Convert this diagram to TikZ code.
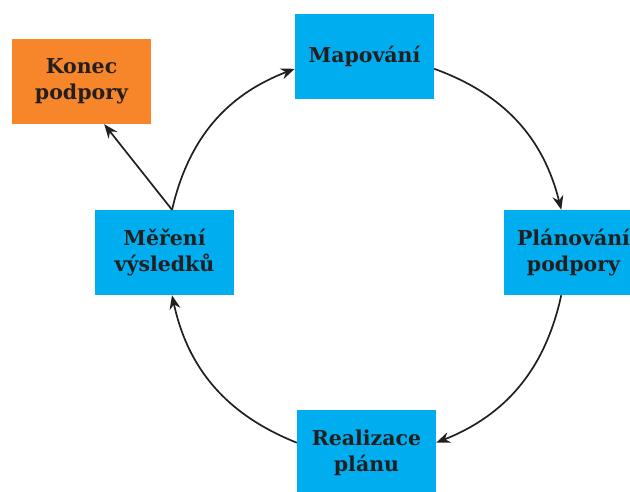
\documentclass[tikz,border=0pt]{standalone}
\usepackage{fontspec}
\setmainfont{DejaVu Serif}
\usetikzlibrary{arrows.meta}

\definecolor{stepblue}{HTML}{00AEEF}
\definecolor{endorange}{HTML}{F7862B}
\definecolor{inkdark}{HTML}{231F20}

\begin{document}
\begin{tikzpicture}[x=1pt,y=1pt,
		stepbox/.style={fill=stepblue, minimum width=139pt, minimum height=85pt, inner sep=0pt,
			align=center, font=\bfseries\fontsize{20.5}{26}\selectfont, text=inkdark},
		endbox/.style={stepbox, fill=endorange},
		flow/.style={draw=inkdark, line width=1.7pt, -{Stealth[length=14pt,width=11pt]}}]
		
		% Fix the page size
		\useasboundingbox (0,0) rectangle (630,491);
		
		% Draw the steps of the cycle
		\node[stepbox] (map) at (364.5,434.5) {Mapování};
		\node[stepbox] (plan) at (573.5,238.5) {Plánování\\podpory};
		\node[stepbox] (real) at (366.5,38.5) {Realizace\\plánu};
		\node[stepbox] (mer) at (164.5,238.5) {Měření\\výsledků};
		
		% Draw the end box
		\node[endbox] (konec) at (81.5,409.5) {Konec\\podpory};
		
		% Draw cycle arrows
		\draw[flow] (map.-10) to[bend left=28] (plan.106);
		\draw[flow] (plan.-106) to[bend left=28] (real.8);
		\draw[flow] (real.172) to[bend left=28] (mer.-80);
		\draw[flow] (mer.80) to[bend left=28] (map.190);
		
		% Draw exit arrow
		\draw[flow] (mer.80) -- (konec.-62);
		
\end{tikzpicture}
\end{document}
